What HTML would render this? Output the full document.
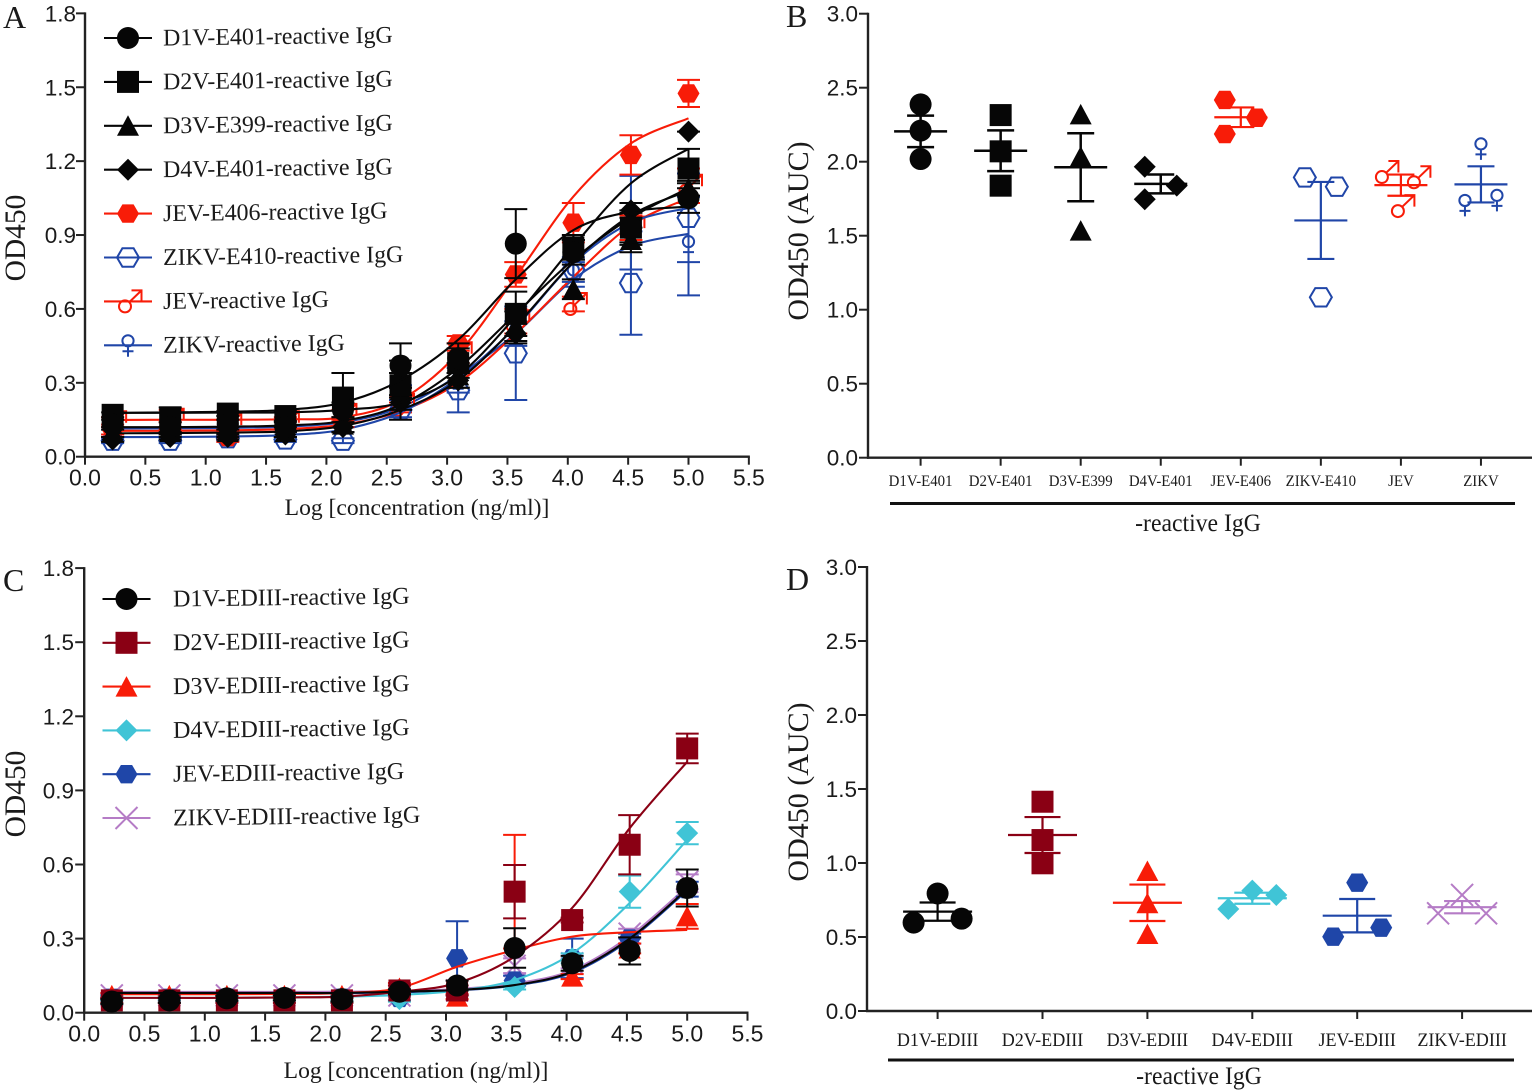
<!DOCTYPE html>
<html lang="en">
<head>
<meta charset="utf-8">
<title>OD450 reactive IgG panels</title>
<style>
html,body{margin:0;padding:0;background:#fff;}
svg{display:block;filter:blur(0.35px);}
text{fill:#1a1a1a;}
.serif{font-family:"Liberation Serif",serif;}
.sans{font-family:"Liberation Sans",sans-serif;}
</style>
</head>
<body>
<svg id="figure" xmlns="http://www.w3.org/2000/svg" width="1535" height="1092" viewBox="0 0 1535 1092">
  <rect width="1535" height="1092" fill="#fff"/>
  <text class="serif" x="3" y="28" font-size="32">A</text>
  <text class="serif" x="786" y="27" font-size="32">B</text>
  <text class="serif" x="3" y="591" font-size="32">C</text>
  <text class="serif" x="786" y="590" font-size="32">D</text>

  <text class="serif" font-size="29.5" text-anchor="middle" transform="translate(25 238) rotate(-90)">OD450</text>
  <text class="serif" font-size="29.5" text-anchor="middle" transform="translate(25 794) rotate(-90)">OD450</text>
  <text class="serif" font-size="30" text-anchor="middle" transform="translate(808 231) rotate(-90)">OD450 (AUC)</text>
  <text class="serif" font-size="30" text-anchor="middle" transform="translate(808 792) rotate(-90)">OD450 (AUC)</text>

  <text class="serif" font-size="23.6" text-anchor="middle" x="417" y="515">Log [concentration (ng/ml)]</text>
  <text class="serif" font-size="23.6" text-anchor="middle" x="416" y="1078">Log [concentration (ng/ml)]</text>

  <line x1="890" y1="503.5" x2="1515" y2="503.5" stroke="#111" stroke-width="3"/>
  <text class="serif" font-size="25.5" text-anchor="middle" transform="translate(1198 531) scale(0.93 1)">-reactive IgG</text>
  <line x1="888" y1="1060" x2="1514" y2="1060" stroke="#111" stroke-width="3"/>
  <text class="serif" font-size="25.5" text-anchor="middle" transform="translate(1199 1084) scale(0.93 1)">-reactive IgG</text>
</svg>

<script>
/* ---------- shared axis data ---------- */
const doses = [0.229,0.706,1.183,1.66,2.137,2.614,3.092,3.569,4.046,4.523,5.0];
const curveXTicks = ['0.0','0.5','1.0','1.5','2.0','2.5','3.0','3.5','4.0','4.5','5.0','5.5'];
const curveYTicks = ['0.0','0.3','0.6','0.9','1.2','1.5','1.8'];
const aucYTicks = ['0.0','0.5','1.0','1.5','2.0','2.5','3.0'];

/* ---------- panel A values ---------- */
const aD1vMean = [0.13,0.12,0.13,0.12,0.19,0.37,0.4,0.865,0.83,0.93,1.05];
const aD1vErr  = [0.02,0.02,0.02,0.02,0.03,0.09,0.06,0.14,0.05,0.07,0.06];
const aD1vFit  = [0.178,0.18,0.183,0.19,0.22,0.31,0.475,0.72,0.92,0.995,1.015];
const aD2vMean = [0.17,0.16,0.175,0.165,0.24,0.29,0.38,0.58,0.85,0.93,1.17];
const aD2vErr  = [0.01,0.04,0.01,0.02,0.1,0.05,0.06,0.09,0.05,0.06,0.08];
const aD2vFit  = [0.178,0.178,0.179,0.18,0.19,0.22,0.33,0.57,0.855,1.11,1.25];
const aD3vMean = [0.1,0.1,0.1,0.1,0.13,0.27,0.33,0.53,0.68,0.88,1.09];
const aD3vErr  = [0.02,0.02,0.02,0.02,0.03,0.12,0.05,0.06,0.04,0.05,0.03];
const aD3vFit  = [0.095,0.096,0.098,0.103,0.125,0.19,0.31,0.53,0.79,0.98,1.08];
const aD4vMean = [0.07,0.08,0.08,0.09,0.12,0.22,0.31,0.5,0.84,1.0,1.32];
const aD4vErr  = [0.01,0.01,0.01,0.01,0.02,0.03,0.03,0.04,0.04,0.03,0.0];
const aD4vFit  = [0.12,0.12,0.122,0.127,0.145,0.21,0.36,0.58,0.8,0.97,1.09];
const aJevEMean = [0.11,0.12,0.08,0.13,0.14,0.25,0.46,0.74,0.95,1.225,1.475];
const aJevEErr  = [0.02,0.02,0.02,0.02,0.02,0.03,0.03,0.05,0.08,0.08,0.055];
const aJevEFit  = [0.149,0.15,0.15,0.152,0.16,0.23,0.42,0.731,1.056,1.272,1.374];
const aZikEMean = [0.065,0.065,0.075,0.07,0.065,0.19,0.27,0.42,0.76,0.705,0.97];
const aZikEErr  = [0.01,0.01,0.01,0.01,0.01,0.03,0.09,0.19,0.05,0.21,0.18];
const aZikEFit  = [0.08,0.08,0.082,0.088,0.11,0.18,0.32,0.527,0.786,0.95,1.01];
const aJevMean = [0.14,0.15,0.13,0.14,0.17,0.21,0.42,0.55,0.62,0.93,1.1];
const aJevErr  = [0.02,0.04,0.02,0.02,0.02,0.03,0.04,0.05,0.03,0.05,0.07];
const aJevFit  = [0.105,0.105,0.107,0.112,0.13,0.185,0.3,0.5,0.73,0.94,1.05];
const aZikMean = [0.1,0.1,0.11,0.11,0.12,0.26,0.3,0.5,0.74,0.95,0.855];
const aZikErr  = [0.01,0.01,0.01,0.01,0.02,0.03,0.04,0.05,0.05,0.19,0.2];
const aZikFit  = [0.115,0.115,0.117,0.122,0.14,0.2,0.33,0.5,0.72,0.855,0.905];

/* ---------- panel C values ---------- */
const cD1vMean = [0.045,0.05,0.058,0.06,0.055,0.085,0.11,0.262,0.2,0.25,0.505];
const cD1vErr  = [0.01,0.01,0.01,0.01,0.01,0.01,0.02,0.08,0.03,0.055,0.075];
const cD1vFit  = [0.08,0.08,0.08,0.08,0.08,0.085,0.092,0.112,0.166,0.3,0.5];
const cD2vMean = [0.05,0.05,0.05,0.05,0.05,0.09,0.09,0.49,0.375,0.68,1.07];
const cD2vErr  = [0.01,0.01,0.01,0.01,0.01,0.02,0.02,0.108,0.01,0.12,0.06];
const cD2vFit  = [0.06,0.06,0.06,0.062,0.065,0.085,0.12,0.227,0.424,0.747,1.016];
const cD3vMean = [0.07,0.07,0.07,0.07,0.07,0.1,0.065,0.49,0.146,0.26,0.39];
const cD3vErr  = [0.01,0.01,0.01,0.01,0.01,0.02,0.01,0.23,0.01,0.02,0.05];
const cD3vFit  = [0.075,0.075,0.075,0.076,0.08,0.1,0.186,0.254,0.308,0.326,0.335];
const cD4vMean = [0.06,0.06,0.06,0.06,0.06,0.055,0.08,0.104,0.22,0.49,0.727];
const cD4vErr  = [0.01,0.01,0.01,0.01,0.01,0.01,0.01,0.01,0.02,0.065,0.045];
const cD4vFit  = [0.06,0.06,0.06,0.062,0.065,0.072,0.089,0.132,0.24,0.444,0.7];
const cJevMean = [0.06,0.06,0.06,0.06,0.06,0.06,0.22,0.13,0.22,0.3,0.5];
const cJevErr  = [0.01,0.01,0.01,0.01,0.01,0.01,0.15,0.02,0.08,0.02,0.03];
const cJevFit  = [0.078,0.078,0.078,0.078,0.079,0.083,0.09,0.11,0.162,0.295,0.495];
const cZikMean = [0.07,0.07,0.07,0.07,0.07,0.07,0.09,0.19,0.2,0.32,0.53];
const cZikErr  = [0.005,0.005,0.005,0.005,0.005,0.005,0.02,0.03,0.02,0.02,0.03];
const cZikFit  = [0.084,0.084,0.084,0.084,0.085,0.088,0.096,0.118,0.172,0.31,0.51];

/* ---------- panel B values ---------- */
const bCategories = ['D1V-E401','D2V-E401','D3V-E399','D4V-E401','JEV-E406','ZIKV-E410','JEV','ZIKV'];
const bD1v = [2.387,2.21,2.018];
const bD2v = [2.315,2.07,1.838];
const bD3v = [2.32,2.034,1.534];
const bD4v = [1.966,1.838,1.746];
const bJevE = [2.417,2.297,2.187];
const bZikE = [1.894,1.831,1.084];
const bJev = [1.93,1.895,1.7];
const bZik = [2.09,1.708,1.742];

/* ---------- panel D values ---------- */
const dCategories = ['D1V-EDIII','D2V-EDIII','D3V-EDIII','D4V-EDIII','JEV-EDIII','ZIKV-EDIII'];
const dD1v = [0.794,0.597,0.624];
const dD2v = [1.414,1.155,0.998];
const dD3v = [0.946,0.728,0.52];
const dD4v = [0.813,0.689,0.784];
const dJev = [0.867,0.502,0.563];
const dZik = [0.784,0.66,0.66];

/* ---------- legend labels ---------- */
const aLegend = ['D1V-E401-reactive IgG','D2V-E401-reactive IgG','D3V-E399-reactive IgG','D4V-E401-reactive IgG','JEV-E406-reactive IgG','ZIKV-E410-reactive IgG','JEV-reactive IgG','ZIKV-reactive IgG'];
const cLegend = ['D1V-EDIII-reactive IgG','D2V-EDIII-reactive IgG','D3V-EDIII-reactive IgG','D4V-EDIII-reactive IgG','JEV-EDIII-reactive IgG','ZIKV-EDIII-reactive IgG'];

const BLACK='#060606', RED='#f81c08', BLUE='#2046a8', DARK='#8a0014', CYAN='#40c4d6', NAVY='#1f46a8', PURPLE='#b57cc6';

const svg = document.getElementById('figure');
const NS = 'http://www.w3.org/2000/svg';
function mk(parent, tag, attrs, txt){
  const e = document.createElementNS(NS, tag);
  for(const k in attrs) e.setAttribute(k, attrs[k]);
  if(txt !== undefined) e.textContent = txt;
  parent.appendChild(e);
  return e;
}
function slug(s){ return s.toLowerCase().replace(/[^a-z0-9]+/g,'-').replace(/-+$/,''); }

const HEX = 'M-11 0L-5.6 -9.2L5.6 -9.2L11 0L5.6 9.2L-5.6 9.2Z';
const MARKS = {
  circle:(p,c)=>mk(p,'circle',{r:11,fill:c}),
  square:(p,c)=>mk(p,'rect',{x:-11,y:-11,width:22,height:22,fill:c}),
  triangle:(p,c)=>mk(p,'path',{d:'M0 -10.5L11 10L-11 10Z',fill:c}),
  diamond:(p,c)=>mk(p,'path',{d:'M0 -11L11 0L0 11L-11 0Z',fill:c}),
  hex:(p,c)=>mk(p,'path',{d:HEX,fill:c}),
  hexOpen:(p,c)=>mk(p,'path',{d:HEX,fill:'none',stroke:c,'stroke-width':2}),
  male:(p,c)=>mk(p,'path',{d:'M3 5a6 6 0 1 1 -12 0a6 6 0 1 1 12 0M1.3 .7L13.5 -11M3.5 -11L13.5 -11L13.5 .5',fill:'none',stroke:c,'stroke-width':2}),
  female:(p,c)=>mk(p,'path',{d:'M5.6 -4.5a5.6 5.6 0 1 1 -11.2 0a5.6 5.6 0 1 1 11.2 0M0 1.2L0 11.5M-5.5 6L5.5 6',fill:'none',stroke:c,'stroke-width':2}),
  cross:(p,c)=>mk(p,'path',{d:'M-11 -11L11 11M-11 11L11 -11',fill:'none',stroke:c,'stroke-width':2}),
};
function marker(parent, kind, x, y, color){
  const g = mk(parent,'g',{transform:`translate(${x.toFixed(2)} ${y.toFixed(2)})`});
  MARKS[kind](g,color);
  return g;
}
function smoothPath(pts){
  let d = `M${pts[0][0].toFixed(2)} ${pts[0][1].toFixed(2)}`;
  for(let i=0;i<pts.length-1;i++){
    const p0=pts[Math.max(0,i-1)],p1=pts[i],p2=pts[i+1],p3=pts[Math.min(pts.length-1,i+2)];
    const c1x=p1[0]+(p2[0]-p0[0])/6,c1y=p1[1]+(p2[1]-p0[1])/6;
    const c2x=p2[0]-(p3[0]-p1[0])/6,c2y=p2[1]-(p3[1]-p1[1])/6;
    d+=`C${c1x.toFixed(2)} ${c1y.toFixed(2)} ${c2x.toFixed(2)} ${c2y.toFixed(2)} ${p2[0].toFixed(2)} ${p2[1].toFixed(2)}`;
  }
  return d;
}
function yAxisDraw(panel, g, X0, Ytop, Ybot, yOf, ticks, labelX, fs){
  const line = mk(g,'line',{x1:X0,y1:Ytop-1,x2:X0,y2:Ybot+1,stroke:'#222','stroke-width':2.4});
  
  
  ticks.forEach(t=>{
    const y=yOf(+t);
    const tk=mk(g,'line',{x1:X0-9,y1:y,x2:X0,y2:y,stroke:'#222','stroke-width':2});
    
    
    const lb=mk(g,'text',{x:labelX,y:y+8,'text-anchor':'end','font-size':fs,class:'sans'},t);
    
    
  });
}

/* ---------- dose-response panels ---------- */
function curvePanel(cfg){
  const g = mk(svg,'g',{});
  
  
  const xOf = v => cfg.x0 + v*cfg.xScale;
  const yOf = v => cfg.y0 - v*cfg.yScale;
  yAxisDraw(cfg.id, g, cfg.x0, yOf(1.8), cfg.y0, yOf, curveYTicks, cfg.yLabelX, 22.5);
  const xl = mk(g,'line',{x1:cfg.x0-1,y1:cfg.y0,x2:xOf(5.5)+1,y2:cfg.y0,stroke:'#222','stroke-width':2.4});
  
  
  curveXTicks.forEach(t=>{
    const x=xOf(+t);
    const tk=mk(g,'line',{x1:x,y1:cfg.y0,x2:x,y2:cfg.y0+8,stroke:'#222','stroke-width':2});
    
    
    const lb=mk(g,'text',{x:x,y:cfg.y0+29,'text-anchor':'middle','font-size':23,class:'sans'},t);
    
    
  });
  /* series in paint order: last listed is on top */
  [...cfg.series].reverse().forEach(s=>{
    const sg = mk(g,'g',{});
    
    
    const curve = mk(sg,'path',{d:smoothPath(doses.map((d,i)=>[xOf(d),yOf(s.fit[i])])),fill:'none',stroke:s.color,'stroke-width':2.1});
    
    
    doses.forEach((d,i)=>{
      const x=xOf(d), hi=yOf(s.mean[i]+s.err[i]), lo=yOf(s.mean[i]-s.err[i]);
      const eb = mk(sg,'path',{d:`M${x} ${hi}L${x} ${lo}M${x-11.5} ${hi}L${x+11.5} ${hi}M${x-11.5} ${lo}L${x+11.5} ${lo}`,fill:'none',stroke:s.color,'stroke-width':2});
      
      
    });
    doses.forEach((d,i)=>{
      const m = marker(sg,s.kind,xOf(d),yOf(s.mean[i]),s.color);
      
      
    });
  });
  /* legend */
  const lg = mk(g,'g',{});
  
  
  cfg.series.forEach((s,i)=>{
    const y = cfg.legendY[0] + i*cfg.legendY[1];
    const e = mk(lg,'g',{});
    
    
    mk(e,'line',{x1:cfg.legendX,y1:y,x2:cfg.legendX+48,y2:y,stroke:s.color,'stroke-width':2.1});
    marker(e,s.kind,cfg.legendX+24,y,s.color);
    mk(e,'text',{x:cfg.legendTextX,y:y+7.5,'font-size':cfg.legendFont,class:'serif',transform:`rotate(-0.7 ${cfg.legendTextX} ${y})`},s.label);
  });
}

curvePanel({id:'panel-a',x0:85,y0:456.7,xScale:120.7,yScale:246.3,yLabelX:76,
  legendX:104,legendTextX:163,legendFont:23.95,legendY:[38,43.9],
  series:[
    {label:aLegend[0],kind:'circle',color:BLACK,mean:aD1vMean,err:aD1vErr,fit:aD1vFit},
    {label:aLegend[1],kind:'square',color:BLACK,mean:aD2vMean,err:aD2vErr,fit:aD2vFit},
    {label:aLegend[2],kind:'triangle',color:BLACK,mean:aD3vMean,err:aD3vErr,fit:aD3vFit},
    {label:aLegend[3],kind:'diamond',color:BLACK,mean:aD4vMean,err:aD4vErr,fit:aD4vFit},
    {label:aLegend[4],kind:'hex',color:RED,mean:aJevEMean,err:aJevEErr,fit:aJevEFit},
    {label:aLegend[5],kind:'hexOpen',color:BLUE,mean:aZikEMean,err:aZikEErr,fit:aZikEFit},
    {label:aLegend[6],kind:'male',color:RED,mean:aJevMean,err:aJevErr,fit:aJevFit},
    {label:aLegend[7],kind:'female',color:BLUE,mean:aZikMean,err:aZikErr,fit:aZikFit}
  ]});

curvePanel({id:'panel-c',x0:84.2,y0:1012.7,xScale:120.6,yScale:247,yLabelX:74,
  legendX:102.5,legendTextX:173,legendFont:24.1,legendY:[599,43.8],
  series:[
    {label:cLegend[0],kind:'circle',color:BLACK,mean:cD1vMean,err:cD1vErr,fit:cD1vFit},
    {label:cLegend[1],kind:'square',color:DARK,mean:cD2vMean,err:cD2vErr,fit:cD2vFit},
    {label:cLegend[2],kind:'triangle',color:RED,mean:cD3vMean,err:cD3vErr,fit:cD3vFit},
    {label:cLegend[3],kind:'diamond',color:CYAN,mean:cD4vMean,err:cD4vErr,fit:cD4vFit},
    {label:cLegend[4],kind:'hex',color:NAVY,mean:cJevMean,err:cJevErr,fit:cJevFit},
    {label:cLegend[5],kind:'cross',color:PURPLE,mean:cZikMean,err:cZikErr,fit:cZikFit}
  ]});

/* ---------- scatter (AUC) panels ---------- */
function spreadSlots(vals, yOf, chainPattern){
  const n=vals.length, slots=new Array(n).fill(0), near=22;
  const hit=(a,b)=>Math.abs(yOf(vals[a])-yOf(vals[b]))<near;
  const seen=new Array(n).fill(false);
  for(let i=0;i<n;i++){
    if(seen[i]) continue;
    const cluster=[i]; seen[i]=true;
    for(let c=0;c<cluster.length;c++) for(let j=0;j<n;j++)
      if(!seen[j] && hit(cluster[c],j)){seen[j]=true;cluster.push(j);}
    cluster.sort((a,b)=>a-b);
    if(cluster.length===2){slots[cluster[0]]=-1;slots[cluster[1]]=1;}
    if(cluster.length===3) cluster.forEach((c,k)=>{slots[c]=chainPattern[k];});
  }
  return slots;
}
function aucPanel(cfg){
  const g = mk(svg,'g',{});
  
  
  const yOf = v => cfg.y0 - v*cfg.yScale;
  const xOf = i => cfg.firstX + i*cfg.stepX;
  yAxisDraw(cfg.id, g, cfg.x0, yOf(3), cfg.y0, yOf, aucYTicks, cfg.x0-10, 22.5);
  const xl = mk(g,'line',{x1:cfg.x0-1,y1:cfg.y0,x2:1532,y2:cfg.y0,stroke:'#222','stroke-width':2.4});
  
  
  cfg.categories.forEach((c,i)=>{
    const x=xOf(i);
    const tk=mk(g,'line',{x1:x,y1:cfg.y0,x2:x,y2:cfg.y0+8,stroke:'#222','stroke-width':2});
    
    
    const lb=mk(g,'text',{'text-anchor':'middle','font-size':cfg.labelFont,class:'serif',transform:`translate(${x} ${cfg.labelY}) scale(${cfg.labelSquash} 1)`},c);
    
    
  });
  cfg.groups.forEach((s,i)=>{
    const sg = mk(g,'g',{});
    const nm = slug(cfg.categories[i]);
    
    
    const x = xOf(i), v = s.vals, n = v.length;
    const mean = v.reduce((a,b)=>a+b,0)/n;
    const sem = Math.sqrt(v.reduce((a,b)=>a+(b-mean)*(b-mean),0)/(n-1))/Math.sqrt(n);
    const slots = spreadSlots(v,yOf,cfg.chain);
    const width = s.color===BLACK && cfg.id==='panel-b' ? 2.5 : 2.2;
    const mbar = mk(sg,'line',{x1:x-cfg.meanHalf,y1:yOf(mean),x2:x+cfg.meanHalf,y2:yOf(mean),stroke:s.color,'stroke-width':width});
    
    
    const hi=yOf(mean+sem), lo=yOf(mean-sem);
    const eb = mk(sg,'path',{d:`M${x} ${hi}L${x} ${lo}M${x-cfg.capHalf} ${hi}L${x+cfg.capHalf} ${hi}M${x-cfg.capHalf} ${lo}L${x+cfg.capHalf} ${lo}`,fill:'none',stroke:s.color,'stroke-width':width});
    
    
    v.forEach((val,k)=>{
      const m = marker(sg,s.kind,x+slots[k]*cfg.spread,yOf(val),s.color);
      
      
    });
  });
}

aucPanel({id:'panel-b',x0:868,y0:457.7,yScale:148,firstX:920.6,stepX:80.05,spread:16,meanHalf:26.5,capHalf:13.5,
  chain:[-1,1,-1],labelY:486,labelFont:16,labelSquash:0.93,categories:bCategories,
  groups:[
    {vals:bD1v,kind:'circle',color:BLACK},
    {vals:bD2v,kind:'square',color:BLACK},
    {vals:bD3v,kind:'triangle',color:BLACK},
    {vals:bD4v,kind:'diamond',color:BLACK},
    {vals:bJevE,kind:'hex',color:RED},
    {vals:bZikE,kind:'hexOpen',color:BLUE},
    {vals:bJev,kind:'male',color:RED},
    {vals:bZik,kind:'female',color:BLUE}
  ]});

aucPanel({id:'panel-d',x0:867,y0:1011,yScale:148,firstX:937.6,stepX:104.9,spread:24,meanHalf:34.5,capHalf:18,
  chain:[0,-1,1],labelY:1046,labelFont:19,labelSquash:0.95,categories:dCategories,
  groups:[
    {vals:dD1v,kind:'circle',color:BLACK},
    {vals:dD2v,kind:'square',color:DARK},
    {vals:dD3v,kind:'triangle',color:RED},
    {vals:dD4v,kind:'diamond',color:CYAN},
    {vals:dJev,kind:'hex',color:NAVY},
    {vals:dZik,kind:'cross',color:PURPLE}
  ]});
</script>
</body>
</html>
